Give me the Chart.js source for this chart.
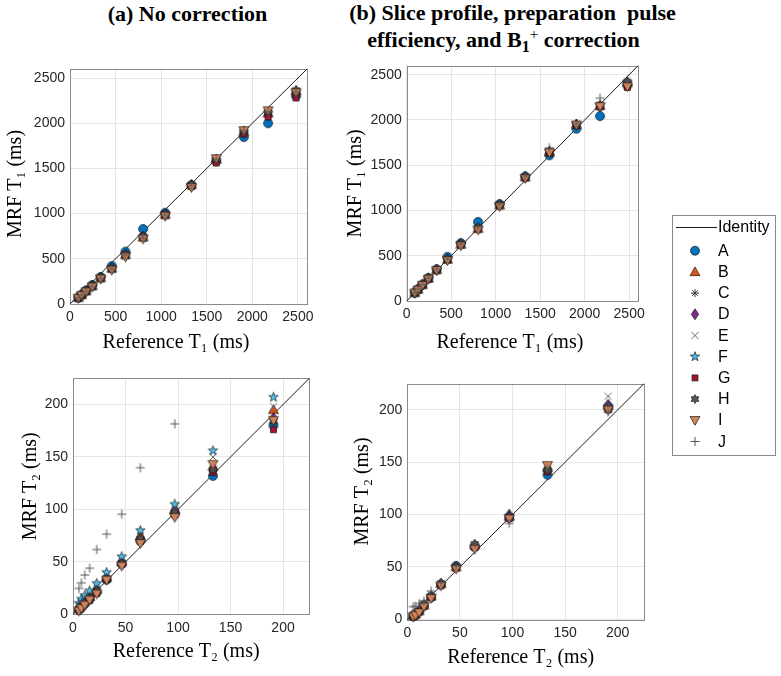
<!DOCTYPE html>
<html><head><meta charset="utf-8">
<script src="https://cdn.jsdelivr.net/npm/chart.js@4.4.0/dist/chart.umd.min.js"></script>
<style>
body{margin:0;background:#fff;width:781px;height:676px;position:relative;overflow:hidden;font-family:"Liberation Sans",Arial,sans-serif}
.t{position:absolute;font-family:"Liberation Serif","Times New Roman",serif;font-weight:bold;font-size:22px;line-height:22px;white-space:pre;color:#000;text-align:center}
canvas.c{position:absolute}
#legend{position:absolute;left:672px;top:215px;width:102px;height:239px;border:1px solid #8a8a8a;background:#fff}
#legend .lab{position:absolute;left:45px;font-size:16px;line-height:20px;height:20px;color:#000;font-family:"Liberation Sans",Arial,sans-serif}
#lgc{position:absolute;left:0;top:0}
</style></head>
<body>
<div class="t" style="left:0;width:375px;top:3px">(a) No correction</div>
<div class="t" style="left:312px;width:401px;top:2px">(b) Slice profile, preparation  pulse</div>
<div class="t" style="left:303px;width:401px;top:29px">efficiency, and B<span style="font-size:16px;position:relative;top:5px">1</span><span style="font-size:15px;position:relative;top:-8px;font-weight:normal">+</span> correction</div>

<canvas class="c" id="tl" width="320" height="309" style="left:0;top:50px"></canvas>
<canvas class="c" id="tr" width="320" height="309" style="left:330px;top:50px"></canvas>
<canvas class="c" id="bl" width="320" height="308" style="left:0;top:360px"></canvas>
<canvas class="c" id="br" width="320" height="314" style="left:330px;top:360px"></canvas>
<div id="legend"><canvas id="lgc" width="102" height="239"></canvas></div>

<script>
// ---------------- data ----------------
const seriesNames = ['A','B','C','D','E','F','G','H','I','J'];
const refT1 = [90.9, 126.9, 176.6, 244.2, 336.5, 458.4, 608.6, 801.7, 1044, 1332, 1604, 1907, 2173, 2480];
const refT2 = [5.6, 7.9, 11.2, 15.8, 22.6, 32.0, 46.4, 64.1, 96.9, 133.3, 190.9];
const t1TickValues = [0, 500, 1000, 1500, 2000, 2500];
const t1TickLabels = ['0', '500', '1000', '1500', '2000', '2500'];
const t2TickValues = [0, 50, 100, 150, 200];
const t2TickLabels = ['0', '50', '100', '150', '200'];
const t1AxisMax = 2600;
const t2AxisMax = 225;

// (a) No correction, MRF T1 per series A..J
const mrfT1NoCorrection = [
  [72, 105, 150, 210, 300, 420, 579, 830, 1010, 1315, 1580, 1847, 2000, 2300],
  [70, 102, 145, 200, 290, 395, 545, 740, 990, 1320, 1600, 1910, 2110, 2360],
  [68, 100, 142, 198, 285, 390, 540, 735, 985, 1310, 1595, 1905, 2120, 2355],
  [70, 101, 144, 200, 288, 392, 545, 745, 988, 1315, 1590, 1895, 2090, 2330],
  [67, 98, 140, 195, 282, 385, 535, 730, 980, 1305, 1600, 1910, 2130, 2350],
  [69, 100, 143, 198, 286, 393, 542, 738, 985, 1312, 1598, 1905, 2115, 2345],
  [70, 102, 145, 200, 290, 395, 548, 740, 995, 1305, 1560, 1880, 2070, 2280],
  [71, 103, 146, 202, 292, 400, 550, 750, 995, 1320, 1605, 1915, 2125, 2365],
  [65, 95, 135, 190, 278, 375, 520, 720, 972, 1290, 1610, 1920, 2140, 2340],
  [68, 99, 141, 196, 284, 388, 538, 733, 982, 1308, 1600, 1912, 2125, 2350]
];
// (b) corrected, MRF T1
const mrfT1Corrected = [
  [95, 130, 182, 255, 350, 488, 640, 874, 1070, 1375, 1610, 1904, 2043, 2380],
  [92, 128, 180, 250, 345, 460, 625, 800, 1060, 1370, 1650, 1950, 2160, 2420],
  [90, 126, 178, 248, 342, 455, 620, 795, 1055, 1365, 1645, 1945, 2155, 2410],
  [93, 128, 180, 250, 346, 462, 628, 805, 1062, 1372, 1648, 1950, 2150, 2400],
  [91, 127, 178, 247, 343, 458, 622, 798, 1058, 1368, 1655, 1955, 2170, 2430],
  [92, 128, 179, 249, 345, 460, 625, 800, 1060, 1370, 1650, 1950, 2160, 2415],
  [93, 129, 181, 251, 347, 462, 628, 802, 1063, 1362, 1630, 1940, 2145, 2360],
  [92, 128, 180, 250, 346, 461, 630, 810, 1065, 1375, 1655, 1952, 2165, 2420],
  [88, 122, 174, 242, 338, 448, 610, 785, 1045, 1355, 1640, 1945, 2150, 2370],
  [96, 132, 185, 255, 350, 465, 632, 812, 1068, 1380, 1694, 1960, 2241, 2440]
];
// (a) No correction, MRF T2
const mrfT2NoCorrection = [
  [4, 6.5, 10, 14.5, 21, 33, 48, 70, 96, 132, 180],
  [6, 9, 13, 17, 24, 35, 50, 75, 100, 141, 195],
  [5, 7.5, 11, 15, 22, 34, 49, 71, 97, 136, 183],
  [5, 8, 12, 16, 23, 35, 50, 72, 99, 138, 187],
  [8, 11, 15, 19, 26, 37, 52, 76, 102, 150, 198],
  [10.5, 14.5, 18, 22.5, 29.5, 40, 55, 80, 105, 156, 207],
  [4.5, 7, 10, 13, 20, 33, 48, 70, 95, 135, 176],
  [5, 8, 11.5, 15.5, 22.5, 34, 49, 72, 97, 138, 184],
  [3.2, 5.7, 8.9, 13.7, 19.5, 32.7, 46, 67.5, 92.5, 143, 185],
  [24.7, 30, 37.5, 44, 61.8, 76.4, 95.4, 139.8, 181.6, null, null]
];
// (b) corrected, MRF T2
const mrfT2Corrected = [
  [3, 4.5, 7.5, 13, 21, 33, 51, 69, 97, 138, 203],
  [3.5, 5, 8, 13.5, 22, 34, 50, 71, 98, 145, 204],
  [3.5, 5, 8, 14, 22, 34, 50, 71, 98, 142, 202],
  [3, 5, 8, 13.5, 22, 34, 50, 70, 100, 142, 205],
  [4, 6, 9, 15, 23, 34, 50, 70, 97, 144, 213],
  [3.5, 5, 8, 13.5, 22, 33, 50, 70, 98, 142, 203],
  [3, 5, 7.5, 13, 21, 33, 49, 69, 97, 141, 200],
  [3.5, 5, 8, 14, 22, 34, 50, 72, 98, 143, 201],
  [2.5, 4, 6.5, 12, 20, 32, 48, 67, 96, 147, 200],
  [12, 12.5, 15, 17.5, 27, 35, 51, 72, 91.5, 143, 198]
];

// ---------------- styles ----------------
const EDGE = 'rgba(20,20,20,0.85)';
const markerSpecs = [
  {type:'circle',   size:9,  fill:'#0072BD', stroke:EDGE},
  {type:'triUp',    size:10, fill:'#D95319', stroke:EDGE},
  {type:'asterisk', size:8,  fill:null,      stroke:'#3a3a3a'},
  {type:'diamond',  size:10, fill:'#7E2F8E', stroke:EDGE},
  {type:'x',        size:7,  fill:null,      stroke:'#6a6a6a'},
  {type:'penta',    size:10, fill:'#4DBEEE', stroke:EDGE},
  {type:'square',   size:6,  fill:'#A2142F', stroke:EDGE},
  {type:'hexa',     size:9,  fill:'#555555', stroke:EDGE},
  {type:'triDown',  size:10, fill:'#D4845C', stroke:EDGE},
  {type:'plus',     size:9,  fill:null,      stroke:'#555555'}
];

function drawMarker(ctx, spec, cx, cy) {
  const r = spec.size / 2;
  ctx.save();
  ctx.lineWidth = 0.8;
  ctx.strokeStyle = spec.stroke;
  if (spec.fill) ctx.fillStyle = spec.fill;
  ctx.beginPath();
  const poly = pts => { pts.forEach((p, k) => k ? ctx.lineTo(cx + p[0], cy + p[1]) : ctx.moveTo(cx + p[0], cy + p[1])); ctx.closePath(); };
  const star = (n, inner) => {
    const pts = [];
    for (let k = 0; k < 2 * n; k++) {
      const a = -Math.PI / 2 + k * Math.PI / n;
      const rr = k % 2 ? r * inner : r;
      pts.push([rr * Math.cos(a), rr * Math.sin(a)]);
    }
    poly(pts);
  };
  switch (spec.type) {
    case 'circle': ctx.arc(cx, cy, r, 0, Math.PI * 2); break;
    case 'triUp': poly([[0, -r], [r, r * 0.75], [-r, r * 0.75]]); break;
    case 'triDown': poly([[0, r], [r, -r * 0.75], [-r, -r * 0.75]]); break;
    case 'diamond': poly([[0, -r * 1.1], [r * 0.75, 0], [0, r * 1.1], [-r * 0.75, 0]]); break;
    case 'square': poly([[-r, -r], [r, -r], [r, r], [-r, r]]); break;
    case 'penta': star(5, 0.4); break;
    case 'hexa': star(6, 0.58); break;
    case 'asterisk':
      for (let k = 0; k < 4; k++) { const a = k * Math.PI / 4; ctx.moveTo(cx - r * Math.cos(a), cy - r * Math.sin(a)); ctx.lineTo(cx + r * Math.cos(a), cy + r * Math.sin(a)); }
      ctx.lineWidth = 1; break;
    case 'x': ctx.moveTo(cx - r, cy - r); ctx.lineTo(cx + r, cy + r); ctx.moveTo(cx + r, cy - r); ctx.lineTo(cx - r, cy + r); ctx.lineWidth = 1; break;
    case 'plus': ctx.moveTo(cx - r, cy); ctx.lineTo(cx + r, cy); ctx.moveTo(cx, cy - r); ctx.lineTo(cx, cy + r); ctx.lineWidth = 1; break;
  }
  if (spec.fill) ctx.fill();
  ctx.stroke();
  ctx.restore();
}
function markerImage(spec) {
  const c = document.createElement('canvas');
  const s = Math.ceil(spec.size) + 5;
  c.width = s; c.height = s;
  drawMarker(c.getContext('2d'), spec, s / 2, s / 2);
  return c;
}
const markerImgs = markerSpecs.map(markerImage);

// ---------------- charts ----------------
const boxPlugin = {
  id: 'box',
  beforeDatasetsDraw(chart) {
    const {ctx, chartArea: a} = chart;
    ctx.save();
    ctx.strokeStyle = '#8c8c8c';
    ctx.lineWidth = 1;
    ctx.strokeRect(Math.round(a.left) + 0.5, Math.round(a.top) + 0.5, Math.round(a.right - a.left), Math.round(a.bottom - a.top));
    ctx.restore();
  }
};

function axis(tickValues, tickLabels, max, title, fit, horizontal) {
  return {
    type: 'linear', min: 0, max: max,
    afterBuildTicks: s => { s.ticks = tickValues.map(v => ({value: v})); },
    afterFit: s => { if (horizontal) s.height = fit; else s.width = fit; },
    grid: {color: '#e6e6e6', drawTicks: false, lineWidth: 1},
    border: {display: false},
    ticks: {
      font: {family: '"Liberation Sans", Arial, sans-serif', size: 14},
      color: '#262626', padding: 5,
      callback: v => { const i = tickValues.indexOf(v); return i >= 0 ? tickLabels[i] : ''; }
    },
    title: {display: true, text: title, color: '#000',
      font: {family: '"Liberation Serif", "Times New Roman", serif', size: 20}, padding: {top: 4, bottom: 4}}
  };
}

function buildDatasets(ref, rows, max) {
  const ds = [{
    label: 'Identity', data: [{x: 0, y: 0}, {x: max, y: max}], showLine: true,
    borderColor: '#1a1a1a', borderWidth: 1, pointRadius: 0, order: 20, clip: false
  }];
  rows.forEach((row, i) => {
    ds.push({
      label: seriesNames[i],
      data: ref.map((x, j) => ({x: x, y: row[j]})).filter(p => p.y != null),
      pointStyle: markerImgs[i], pointRadius: 5, showLine: false,
      order: 10 - i, clip: false
    });
  });
  return ds;
}

function makeChart(id, ref, rows, max, tv, tl, xTitle, yTitle, pad, yWidth, xHeight) {
  return new Chart(document.getElementById(id), {
    type: 'scatter',
    data: {datasets: buildDatasets(ref, rows, max)},
    options: {
      responsive: false, animation: false, events: [],
      layout: {padding: pad},
      plugins: {legend: {display: false}, tooltip: {enabled: false}},
      scales: {
        x: axis(tv, tl, max, xTitle, xHeight, true),
        y: axis(tv, tl, max, yTitle, yWidth, false)
      }
    },
    plugins: [boxPlugin]
  });
}

makeChart('tl', refT1, mrfT1NoCorrection, t1AxisMax, t1TickValues, t1TickLabels,
  'Reference T\u2081 (ms)     ', ' MRF T\u2081 (ms)', {left: 0, top: 19, right: 13, bottom: 0}, 70, 55);
makeChart('tr', refT1, mrfT1Corrected, t1AxisMax, t1TickValues, t1TickLabels,
  'Reference T\u2081 (ms)     ', 'MRF T\u2081 (ms)', {left: 9.5, top: 15.7, right: 7.3, bottom: 0}, 67.2, 58);
makeChart('bl', refT2, mrfT2NoCorrection, t2AxisMax, t2TickValues, t2TickLabels,
  'Reference T\u2082 (ms)  ', '    MRF T\u2082 (ms)', {left: 15, top: 18.3, right: 10.7, bottom: 0}, 58, 53.7);
makeChart('br', refT2, mrfT2Corrected, t2AxisMax, t2TickValues, t2TickLabels,
  'Reference T\u2082 (ms)  ', '    MRF T\u2082 (ms)', {left: 17, top: 23.7, right: 5.7, bottom: 0}, 60.3, 54.7);

// ---------------- legend ----------------
(function () {
  const legend = document.getElementById('legend');
  const g = document.getElementById('lgc').getContext('2d');
  const rowY = i => 34.7 + 21.2 * i;   // centre of row i (A..J) inside the box
  g.strokeStyle = '#1a1a1a'; g.lineWidth = 1.2;
  g.beginPath(); g.moveTo(3, 11.5); g.lineTo(44, 11.5); g.stroke();
  const t0 = document.createElement('span'); t0.className = 'lab'; t0.style.top = '1px'; t0.textContent = 'Identity';
  legend.appendChild(t0);
  seriesNames.forEach((name, i) => {
    drawMarker(g, markerSpecs[i], 22, rowY(i));
    const t = document.createElement('span'); t.className = 'lab';
    t.style.top = (rowY(i) - 10) + 'px'; t.textContent = name;
    legend.appendChild(t);
  });
})();
</script>
</body></html>
